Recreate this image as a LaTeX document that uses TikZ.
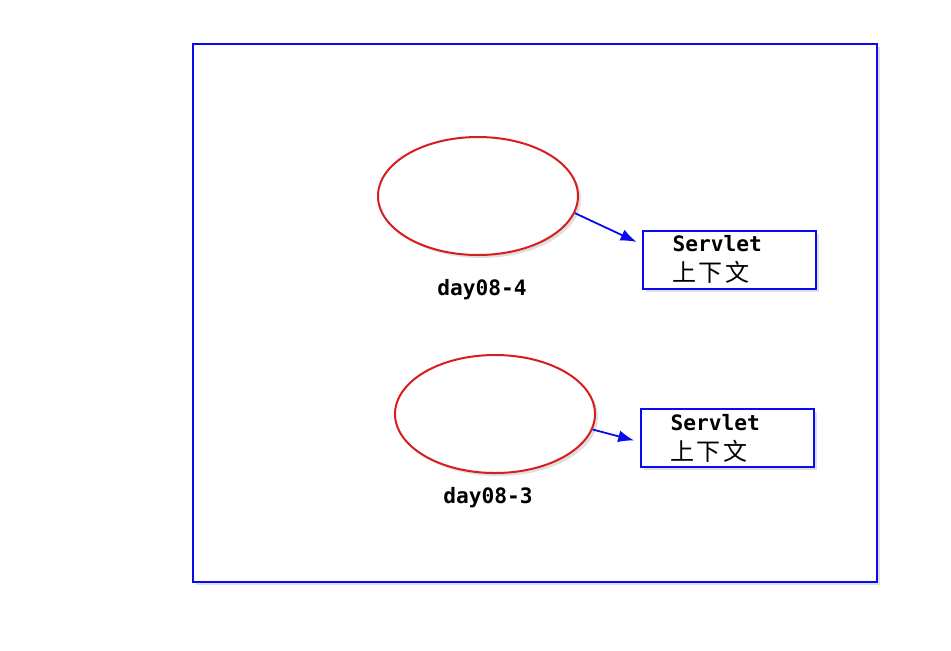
\documentclass[tikz,border=0pt]{standalone}
\usepackage{fontspec}
\setmonofont{DejaVu Sans Mono}
\newfontfamily\cjk{Noto Sans CJK SC}
\usetikzlibrary{shapes.geometric,shadows,arrows.meta}
\definecolor{frameblue}{RGB}{10,10,240}
\definecolor{ringred}{RGB}{215,30,30}
\newcommand{\ctxtext}{Servlet\\{\cjk\mdseries\fontsize{12}{15}\selectfont 上\hspace{1.2pt}下\hspace{1.2pt}文}}

\begin{document}
\begin{tikzpicture}[x=0.5pt, y=-0.5pt,
  ring/.style={draw=ringred, line width=1pt, ellipse, minimum width=100pt, minimum height=59pt, fill=white,
    drop shadow={shadow xshift=1.5pt, shadow yshift=-1.5pt, opacity=0.25}},
  ctxbox/.style={draw=frameblue, line width=1pt, fill=white, minimum width=86.5pt, minimum height=29pt,
    text width=57pt, align=left, inner xsep=14.5pt, inner ysep=1pt, font=\ttfamily\bfseries\fontsize{10.6}{15}\selectfont,
    drop shadow={shadow xshift=1.5pt, shadow yshift=-1.5pt, opacity=0.25}},
  tag/.style={font=\ttfamily\bfseries\fontsize{10.6}{13}\selectfont},
  link/.style={draw=frameblue, line width=0.9pt, -{Latex[length=8pt,width=6pt]}, shorten >=3pt}]
  \useasboundingbox (0,0) rectangle (951,650);
  % outer frame
  \draw [frameblue, line width=1pt, fill=white, drop shadow={shadow xshift=1.5pt, shadow yshift=-1.5pt, opacity=0.25}] (193,44) rectangle (877,582);
  % first context
  \node [ring] (ctxA) at (478,196) {};
  \node [tag] (nameA) at (482,289.5) {day08-4};
  \node [ctxbox] (boxA) at (729.5,259.5) {\ctxtext};
  % second context
  \node [ring] (ctxB) at (495,414) {};
  \node [tag] (nameB) at (488,497.5) {day08-3};
  \node [ctxbox] (boxB) at (727.5,438) {\ctxtext};
  \draw [link] (ctxA.-10) -- ([yshift=7.5pt]boxA.west);
  \draw [link] (ctxB.-9) -- ([yshift=-2pt]boxB.west);
\end{tikzpicture}
\end{document}
